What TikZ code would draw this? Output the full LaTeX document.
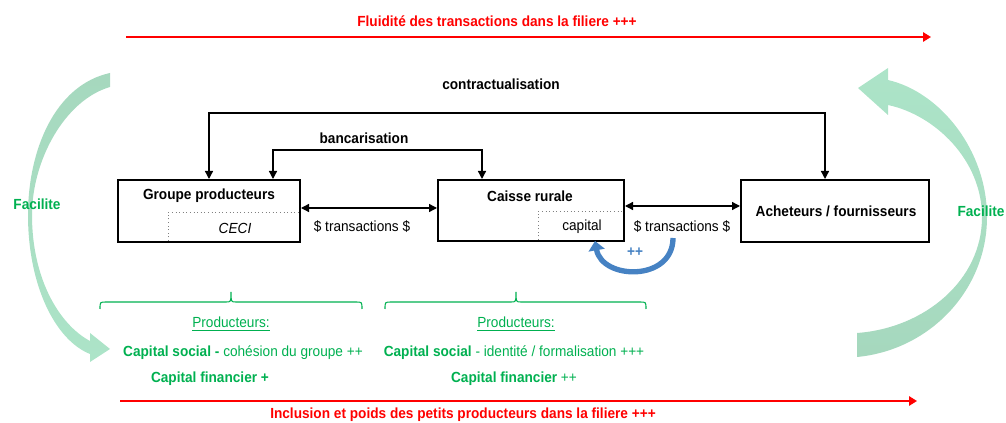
\documentclass[tikz,border=0pt]{standalone}
\usepackage{fontspec}
\setmainfont{Liberation Sans}[FakeStretch=0.93]
\usetikzlibrary{arrows.meta}
\definecolor{fgreen}{RGB}{0,176,80}
\definecolor{fred}{RGB}{255,0,0}
\definecolor{fblue}{RGB}{70,130,195}
\definecolor{agreenA}{RGB}{166,216,190}
\definecolor{agreenB}{RGB}{205,240,220}
\definecolor{agreenC}{RGB}{172,228,200}
\begin{document}
\begin{tikzpicture}[x=0.75pt,y=-0.75pt,
  every node/.style={font=\fontsize{11}{13}\selectfont, inner sep=0pt},
  box/.style={draw=black, line width=1.5pt, fill=white},
  lbl/.style={font=\fontsize{11}{13}\selectfont\bfseries},
  arr/.style={line width=1pt, -{Triangle[length=6pt,width=6pt]}},
  dbl/.style={line width=1pt, {Triangle[length=6pt,width=6pt]}-{Triangle[length=6pt,width=6pt]}},
  redarr/.style={draw=fred, line width=1.4pt, -{Triangle[length=6pt,width=7pt]}},
  redtxt/.style={text=fred, font=\fontsize{11}{13}\selectfont\bfseries},
  grtxt/.style={text=fgreen},
  brace/.style={draw=fgreen, line width=0.8pt},
  dotbox/.style={draw=gray, line width=0.7pt, dotted},
  bluearr/.style={draw=fblue, line width=4pt, -{Triangle[length=7pt,width=12pt]}}
]
\useasboundingbox (0,0) rectangle (1006,423);

% big green curved arrows
\shade[top color=agreenA, middle color=agreenB, bottom color=agreenC]
  (110,73) .. controls (55,85) and (28,150) .. (28,215)
  .. controls (28,285) and (55,340) .. (90,354) -- (90,362) -- (110,349) -- (90,333) -- (90,341)
  .. controls (60,325) and (32,280) .. (32,215)
  .. controls (32,160) and (65,100) .. (110,87) -- cycle;
\shade[top color=agreenC, middle color=agreenB, bottom color=agreenA]
  (857,333) -- (857,357) .. controls (930,350) and (987,290) .. (987,217)
  .. controls (987,150) and (940,92) .. (888,80) -- (888,68) -- (858,88) -- (888,115) -- (888,105)
  .. controls (935,115) and (982,160) .. (982,217)
  .. controls (982,280) and (925,328) .. (857,333) -- cycle;

% red arrows
\coordinate (r1) at (126,37); \coordinate (r2) at (931,37);
\draw[redarr] (r1) -- (r2);
\node[redtxt] (fluid) at (497,21) {Fluidité des transactions dans la filiere +++};
\coordinate (r3) at (120,401); \coordinate (r4) at (917,401);
\draw[redarr] (r3) -- (r4);
\node[redtxt] (incl) at (463,415) {Inclusion et poids des petits producteurs dans la filiere +++};

% boxes
\node[box, minimum width=136.5pt, minimum height=46.5pt] (gp) at (209,211) {};
\node[box, minimum width=139.5pt, minimum height=45.75pt] (cr) at (531,210.5) {};
\node[box, minimum width=141pt, minimum height=46.5pt] (ach) at (835,211) {};
\node[lbl] (gpt) at (209,196) {Groupe producteurs};
\node[lbl] (crt) at (530,196) {Caisse rurale};
\node[lbl] (acht) at (836,211) {Acheteurs / fournisseurs};
\draw[dotbox] (168,241) -- (168,212.5) -- (299,212.5);
\node[font=\fontsize{11}{13}\selectfont\itshape] (ceci) at (235,228) {CECI};
\draw[dotbox] (538,240) -- (538,211.5) -- (623,211.5);
\node (cap) at (582,227) {capital};

% contractualisation
\node[lbl] (contr) at (501,84) {contractualisation};
\coordinate (c2) at (825,113);
\draw[dbl] (gp.north) |- (c2) -- (c2 |- ach.north);
% bancarisation
\node[lbl] (banc) at (364,138) {bancarisation};
\coordinate (b1) at (273,150); \coordinate (b2) at (482,150);
\draw[dbl] (b1 |- gp.north) -- (b1) -- (b2) -- (b2 |- cr.north);

% transactions
\coordinate (t1) at (0,208); \coordinate (t2) at (0,206);
\draw[dbl] (gp.east |- t1) -- (cr.west |- t1);
\draw[dbl] (cr.east |- t2) -- (ach.west |- t2);
\node (tr1) at (362,227) {\$ transactions \$};
\node (tr2) at (682,227) {\$ transactions \$};

% blue loop
\coordinate (ba) at (673,238); \coordinate (bb) at (595,241);
\draw[bluearr] (ba) .. controls (673,282) and (602,280) .. (bb);
\node[text=fblue, font=\fontsize{11}{13}\selectfont\bfseries] (pp) at (635,252) {++};

% Facilite
\node[grtxt, lbl] (fac1) at (37,204) {Facilite};
\node[grtxt, lbl] (fac2) at (981,211) {Facilite};

% braces
\draw[brace] (100,309) .. controls (100,302) .. (106,302) -- (226,302) .. controls (231,302) .. (231,292)
  .. controls (231,302) .. (236,302) -- (356,302) .. controls (362,302) .. (362,309);
\draw[brace] (385,309) .. controls (385,302) .. (391,302) -- (511,302) .. controls (516,302) .. (516,292)
  .. controls (516,302) .. (521,302) -- (640,302) .. controls (646,302) .. (646,309);

% bottom texts
\node[grtxt] (p1) at (231,324) {\underline{Producteurs:}};
\node[grtxt] (p2) at (516,324) {\underline{Producteurs:}};
\node[grtxt] (cs1) at (243,353) {\textbf{Capital social -} cohésion du groupe ++};
\node[grtxt] (cf1) at (210,379) {\textbf{Capital financier +}};
\node[grtxt] (cs2) at (514,353) {\textbf{Capital social} - identité / formalisation +++};
\node[grtxt] (cf2) at (514,379) {\textbf{Capital financier} ++};
\end{tikzpicture}
\end{document}
